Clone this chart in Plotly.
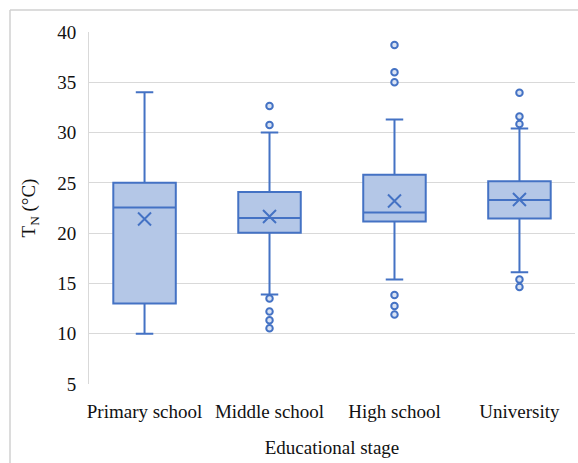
import plotly.graph_objects as go

categories = ["Primary school", "Middle school", "High school", "University"]
lower_whisker = [10.0, 13.9, 15.4, 16.1]
q1_vals = [13.0, 20.05, 21.15, 21.45]
median_vals = [22.55, 21.5, 22.05, 23.3]
q3_vals = [25.0, 24.1, 25.8, 25.15]
upper_whisker = [34.0, 30.0, 31.3, 30.4]
mean_vals = [21.4, 21.65, 23.2, 23.35]

outlier_cats = ["Middle school"] * 6 + ["High school"] * 6 + ["University"] * 5
outlier_vals = [32.65, 30.75, 13.5, 12.2, 11.35, 10.55,
                38.7, 36.0, 35.0, 13.85, 12.75, 11.9,
                33.95, 31.6, 30.85, 15.4, 14.65]

LINE = "#4472c4"
FILL = "#b4c7e7"
FONT = "Liberation Serif, Times New Roman, serif"

W, H = 578, 463
ML, MR, MT, MB = 89, 3, 32, 79
PW, PH = W - ML - MR, H - MT - MB
fx = lambda px: (px - ML) / PW
fy = lambda py: (H - MB - py) / PH

fig = go.Figure()
fig.add_trace(go.Box(
    x=categories,
    q1=q1_vals, median=median_vals, q3=q3_vals,
    lowerfence=lower_whisker, upperfence=upper_whisker,
    boxpoints=False, width=0.5, whiskerwidth=0.28,
    fillcolor=FILL, line=dict(color=LINE, width=2),
    showlegend=False, hoverinfo="skip",
))
fig.add_trace(go.Scatter(
    x=categories, y=mean_vals, mode="markers",
    marker=dict(symbol="x-thin", size=13, line=dict(color=LINE, width=2), color=LINE),
    showlegend=False,
))
fig.add_trace(go.Scatter(
    x=outlier_cats, y=outlier_vals, mode="markers",
    marker=dict(symbol="circle", size=6.5, color="#dae3f3", line=dict(color=LINE, width=2)),
    showlegend=False,
))

fig.update_layout(
    width=W, height=H,
    margin=dict(l=ML, r=MR, t=MT, b=MB, autoexpand=False),
    paper_bgcolor="white", plot_bgcolor="white",
    font=dict(family=FONT, size=19, color="#111111"),
    xaxis=dict(
        type="category", categoryorder="array", categoryarray=categories,
        showgrid=False, zeroline=False, showline=False, ticks="",
        tickfont=dict(size=19), ticklabelstandoff=14, automargin=False,
        title=dict(text="Educational stage", font=dict(size=19), standoff=19),
    ),
    yaxis=dict(
        range=[5, 40], tickmode="linear", tick0=5, dtick=5,
        showgrid=True, gridcolor="#d9d9d9", gridwidth=1,
        zeroline=False, showline=True, linecolor="#d9d9d9", linewidth=1,
        ticks="", tickfont=dict(size=19), ticklabelstandoff=8, automargin=False,
        title=dict(text="T<sub>N</sub> (°C)", font=dict(size=19), standoff=16),
    ),
    shapes=[
        dict(type="line", xref="paper", yref="paper", x0=fx(10), x1=fx(578), y0=fy(10), y1=fy(10),
             line=dict(color="#d0d0d0", width=1.5)),
        dict(type="line", xref="paper", yref="paper", x0=fx(10), x1=fx(10), y0=fy(10), y1=fy(463),
             line=dict(color="#d0d0d0", width=1.5)),
    ],
)

fig.write_html("out.html", config={"displayModeBar": False},
               post_script="document.body.style.margin='0';document.body.style.padding='0';")
